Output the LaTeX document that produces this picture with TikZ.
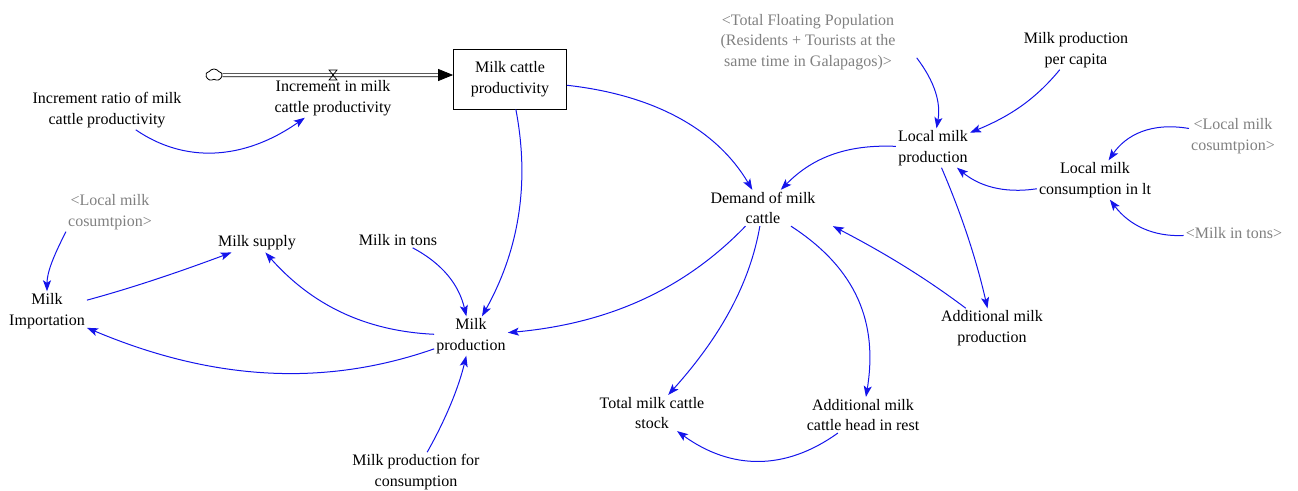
\documentclass[tikz,border=0pt]{standalone}
\usepackage{fontspec}
\setmainfont{Liberation Serif}
\usetikzlibrary{arrows.meta,shapes.symbols}
\definecolor{linkblue}{RGB}{20,20,235}
\definecolor{shadowgray}{RGB}{128,128,128}
\begin{document}
\begin{tikzpicture}[x=1pt,y=-1pt,
  var/.style={align=center,inner sep=2pt,font=\fontsize{16}{20.5}\selectfont},
  shadowvar/.style={var,text=shadowgray},
  stockbox/.style={var,draw,line width=0.8pt,minimum width=113pt,minimum height=60pt},
  link/.style={draw=linkblue,line width=1pt,-{Stealth[length=11pt,width=8pt,inset=2.5pt]}},
  pipe/.style={draw,double,line width=0.7pt,double distance=2.6pt,-{Triangle[length=15pt,width=12pt]}},
  source/.style={cloud,cloud puffs=5,cloud puff arc=110,draw,line width=0.8pt,
    minimum width=16pt,minimum height=12pt,inner sep=0pt}]
\useasboundingbox (0,0) rectangle (1298,490);

% stock, flow and source
\node[stockbox] (box) at (510,79) {Milk cattle\\productivity};
\node[source] (cloud) at (214,75) {};
\coordinate (valve) at (333,75);
\draw[pipe] (cloud) -- (cloud -| box.west);
\draw[line width=0.7pt,shift={(valve)}] (-4,-5) -- (4,-5) -- (-4,5) -- (4,5) -- cycle;
\node[var] (inc) at (333,98) {Increment in milk\\cattle productivity};

% auxiliaries
\node[var] (ratio) at (107,110) {Increment ratio of milk\\cattle productivity};
\node[var] (mintons) at (398,240) {Milk in tons};
\node[var] (msupply) at (257,243) {Milk supply};
\node[var] (mimport) at (47,311) {Milk\\Importation};
\node[shadowvar] (lmcL) at (110,212) {<Local milk\\cosumtpion>};
\node[var] (mprod) at (471,336) {Milk\\production};
\node[var] (mpfc) at (416,472) {Milk production for\\consumption};
\node[var] (demand) at (763,208) {Demand of milk\\cattle};
\node[shadowvar] (tfp) at (808,42) {<Total Floating Population\\(Residents + Tourists at the\\same time in Galapagos)>};
\node[var] (mppc) at (1076,50) {Milk production\\per capita};
\node[var] (lmp) at (933,148) {Local milk\\production};
\node[shadowvar] (lmcR) at (1233,136) {<Local milk\\cosumtpion>};
\node[var] (lmcl) at (1095,180) {Local milk\\consumption in lt};
\node[shadowvar] (mitR) at (1234,233) {<Milk in tons>};
\node[var] (amp) at (992,328) {Additional milk\\production};
\node[var] (tmcs) at (652,413) {Total milk cattle\\stock};
\node[var] (amch) at (863,415) {Additional milk\\cattle head in rest};

% causal links
\draw[link] (ratio) .. controls (184,163) and (243,161) .. (inc);
\draw[link] (box) .. controls (655,95) and (717,130) .. (demand);
\draw[link] (box) .. controls (530,183) and (519,250) .. (mprod);
\draw[link] (mintons) .. controls (443,264) and (459,285) .. (mprod);
\draw[link] (lmcL.south west) .. controls (54,255) and (47,272) .. (mimport);
\draw[link] (mimport) .. controls (139,286) and (187,269) .. (msupply);
\draw[link] (mprod) .. controls (364,331) and (311,304) .. (msupply);
\draw[link] (mprod) .. controls (325,387) and (213,381) .. (mimport);
\draw[link] (mpfc) .. controls (447,417) and (459,386) .. (mprod);
\draw[link] (demand) .. controls (681,293) and (603,324) .. (mprod);
\draw[link] (demand) .. controls (750,283) and (721,336) .. (tmcs);
\draw[link] (demand) .. controls (857,269) and (878,323) .. (amch);
\draw[link] (amch) .. controls (785,471) and (731,470) .. (tmcs);
\draw[link] ([xshift=19pt]tfp.-10) .. controls (935,82) and (941,103) .. (lmp);
\draw[link] (mppc) .. controls (1034,101) and (1008,117) .. (lmp);
\draw[link] (lmp) .. controls (843,144) and (810,160) .. (demand);
\draw[link] (lmcl) .. controls (1002,194) and (978,185) .. (lmp);
\draw[link] (lmcR) .. controls (1151,122) and (1126,135) .. (lmcl);
\draw[link] (mitR) .. controls (1153,237) and (1129,225) .. (lmcl);
\draw[link] (lmp) .. controls (961,213) and (976,258) .. (amp);
\draw[link] (amp) .. controls (919,273) and (875,248) .. ([xshift=20pt]demand.-20);
\end{tikzpicture}
\end{document}
